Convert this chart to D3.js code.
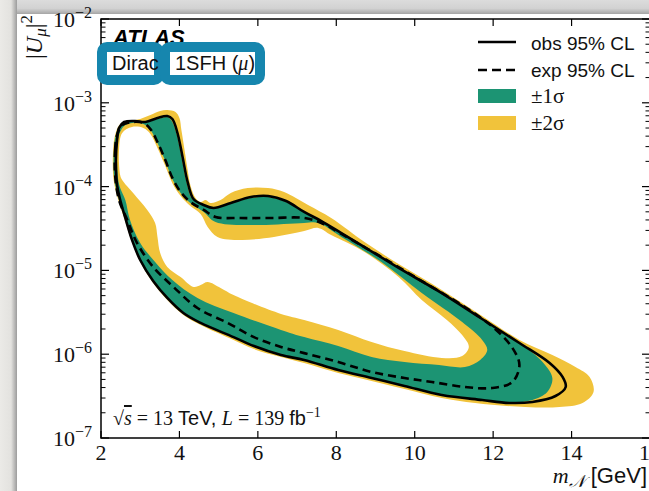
<!DOCTYPE html>
<html><head><meta charset="utf-8">
<script src="https://cdn.jsdelivr.net/npm/d3@7"></script>
<style>html,body{margin:0;padding:0;background:#fff;overflow:hidden}svg{display:block}</style>
</head><body>
<svg id="c" width="649" height="491"></svg>
<script>
// ---------- data ----------
const xTicks = [2, 4, 6, 8, 10, 12, 14, 16];
const yTickExps = [-7, -6, -5, -4, -3, -2];

// observed 95% CL contour [mN (GeV), |U_mu|^2]
const obs = [[2.41,1.04e-4],[2.38,2.07e-4],[2.41,3.60e-4],[2.46,5.00e-4],[2.59,5.90e-4],[2.87,6.07e-4],[3.13,5.90e-4],[3.44,6.59e-4],[3.69,6.95e-4],[3.82,6.41e-4],[3.95,4.36e-4],[4.08,2.25e-4],[4.21,1.13e-4],[4.36,7.11e-5],[4.62,6.03e-5],[4.87,5.56e-5],[5.31,6.37e-5],[5.82,7.52e-5],[6.26,7.73e-5],[6.72,6.73e-5],[7.18,4.98e-5],[7.62,3.88e-5],[8.13,2.79e-5],[8.72,1.90e-5],[9.59,1.07e-5],[10.69,5.37e-6],[11.72,2.63e-6],[12.67,1.36e-6],[13.44,7.85e-7],[13.77,5.35e-7],[13.85,4.06e-7],[13.59,3.17e-7],[13.00,2.69e-7],[12.41,2.62e-7],[11.72,2.84e-7],[10.69,3.26e-7],[9.74,4.18e-7],[8.90,5.20e-7],[8.05,6.47e-7],[7.18,8.53e-7],[6.59,9.77e-7],[5.90,1.25e-6],[5.38,1.60e-6],[4.54,2.36e-6],[4.10,3.10e-6],[3.69,4.69e-6],[3.33,7.47e-6],[3.00,1.33e-5],[2.79,2.31e-5],[2.62,4.22e-5],[2.49,6.92e-5]];

// expected 95% CL contour
const exp = [[2.36,1.37e-4],[2.36,2.74e-4],[2.41,4.13e-4],[2.54,5.43e-4],[2.79,5.90e-4],[3.08,5.74e-4],[3.26,4.86e-4],[3.44,3.40e-4],[3.64,2.07e-4],[3.82,1.27e-4],[4.03,8.63e-5],[4.28,6.55e-5],[4.62,5.26e-5],[4.92,4.34e-5],[5.56,4.22e-5],[6.33,4.22e-5],[7.18,4.22e-5],[7.62,3.68e-5],[8.13,2.72e-5],[9.15,1.45e-5],[10.26,7.08e-6],[11.28,3.66e-6],[12.05,2.00e-6],[12.49,1.19e-6],[12.67,7.43e-7],[12.49,4.66e-7],[11.97,3.95e-7],[11.28,4.06e-7],[10.44,4.66e-7],[9.74,5.20e-7],[8.90,6.14e-7],[8.05,8.07e-7],[7.18,1.03e-6],[6.59,1.22e-6],[5.90,1.60e-6],[5.23,2.36e-6],[4.46,3.56e-6],[3.85,6.34e-6],[3.33,1.10e-5],[2.92,2.12e-5],[2.67,3.99e-5],[2.46,6.92e-5]];

// +-1 sigma band: outer and inner contours
const sig1Outer = [[2.33,1.37e-4],[2.33,2.74e-4],[2.38,4.13e-4],[2.51,5.58e-4],[2.87,6.07e-4],[3.13,5.90e-4],[3.44,6.41e-4],[3.69,6.77e-4],[3.79,6.24e-4],[3.92,4.36e-4],[4.05,2.25e-4],[4.18,1.13e-4],[4.33,7.11e-5],[4.62,6.03e-5],[4.87,5.56e-5],[5.31,6.37e-5],[5.82,7.31e-5],[6.26,7.52e-5],[6.72,6.55e-5],[7.18,4.98e-5],[7.62,3.88e-5],[8.13,2.79e-5],[8.72,1.90e-5],[9.59,1.07e-5],[10.69,5.37e-6],[11.72,2.63e-6],[12.67,1.36e-6],[13.26,8.07e-7],[13.51,5.20e-7],[13.38,3.54e-7],[13.00,2.84e-7],[12.41,2.62e-7],[11.72,2.84e-7],[10.69,3.26e-7],[9.74,4.18e-7],[8.90,5.20e-7],[8.05,6.47e-7],[7.18,8.53e-7],[6.59,9.77e-7],[5.90,1.25e-6],[5.38,1.60e-6],[4.54,2.36e-6],[4.10,3.10e-6],[3.69,4.69e-6],[3.33,7.47e-6],[3.00,1.33e-5],[2.79,2.31e-5],[2.62,4.22e-5],[2.46,6.92e-5],[2.38,9.62e-5]];
const sig1Inner = [[2.44,1.20e-4],[2.41,2.74e-4],[2.46,4.13e-4],[2.59,5.28e-4],[2.79,5.74e-4],[3.08,5.58e-4],[3.26,4.73e-4],[3.44,3.31e-4],[3.64,2.02e-4],[3.82,1.23e-4],[4.03,8.40e-5],[4.28,6.37e-5],[4.62,4.98e-5],[4.92,3.78e-5],[6.00,3.48e-5],[7.18,3.68e-5],[7.54,3.68e-5],[8.13,2.51e-5],[9.15,1.26e-5],[10.18,5.37e-6],[11.21,2.42e-6],[11.72,1.48e-6],[11.85,1.12e-6],[11.67,8.53e-7],[11.28,7.03e-7],[10.62,7.43e-7],[9.74,8.07e-7],[8.90,9.27e-7],[8.05,1.25e-6],[7.18,1.60e-6],[6.59,1.95e-6],[5.38,3.10e-6],[4.46,4.69e-6],[3.82,7.68e-6],[3.38,1.26e-5],[3.00,2.12e-5],[2.74,3.99e-5],[2.62,6.92e-5],[2.49,9.62e-5]];

// +-2 sigma band: outer and inner contours
const sig2Outer = [[2.31,1.37e-4],[2.31,2.74e-4],[2.36,4.13e-4],[2.49,5.58e-4],[2.74,6.07e-4],[3.00,6.41e-4],[3.26,7.14e-4],[3.51,7.98e-4],[3.69,8.20e-4],[3.90,7.76e-4],[4.00,6.59e-4],[4.05,4.73e-4],[4.13,2.74e-4],[4.21,1.58e-4],[4.28,1.04e-4],[4.41,7.31e-5],[4.54,6.55e-5],[4.67,6.92e-5],[4.79,6.37e-5],[5.05,6.92e-5],[5.31,8.40e-5],[5.74,9.62e-5],[6.26,9.62e-5],[6.67,8.63e-5],[7.28,6.03e-5],[7.87,4.22e-5],[8.72,2.18e-5],[9.59,1.19e-5],[10.69,5.84e-6],[11.72,2.86e-6],[12.67,1.48e-6],[13.51,9.77e-7],[14.10,7.03e-7],[14.46,5.35e-7],[14.56,3.54e-7],[14.28,2.62e-7],[13.69,2.34e-7],[12.82,2.34e-7],[11.54,2.62e-7],[10.69,3.00e-7],[9.74,3.85e-7],[8.90,4.79e-7],[8.05,5.97e-7],[7.18,7.85e-7],[6.59,9.27e-7],[5.90,1.15e-6],[5.38,1.48e-6],[4.54,2.23e-6],[4.10,2.94e-6],[3.69,4.44e-6],[3.33,7.08e-6],[3.00,1.26e-5],[2.77,2.31e-5],[2.59,4.22e-5],[2.44,6.92e-5],[2.36,9.62e-5]];
const sig2Inner = [[2.49,1.37e-4],[2.46,2.74e-4],[2.54,4.36e-4],[2.79,5.14e-4],[3.08,5.00e-4],[3.26,4.25e-4],[3.44,2.89e-4],[3.64,1.76e-4],[3.82,1.10e-4],[4.03,7.73e-5],[4.28,5.86e-5],[4.54,4.71e-5],[4.72,3.30e-5],[4.97,2.51e-5],[5.56,2.31e-5],[6.41,2.51e-5],[7.18,2.95e-5],[7.54,3.21e-5],[7.87,2.64e-5],[8.72,1.66e-5],[9.59,8.34e-6],[10.18,4.44e-6],[10.82,2.56e-6],[11.21,1.69e-6],[11.38,1.22e-6],[11.21,9.52e-7],[10.69,9.02e-7],[9.74,1.09e-6],[8.90,1.40e-6],[8.05,1.95e-6],[7.18,2.56e-6],[6.59,3.02e-6],[5.38,5.08e-6],[5.05,6.17e-6],[4.72,7.27e-6],[4.54,6.70e-6],[4.36,6.34e-6],[4.03,8.34e-6],[3.69,1.10e-5],[3.51,1.61e-5],[3.44,2.51e-5],[3.38,3.68e-5],[3.18,5.26e-5],[2.82,8.40e-5],[2.54,1.20e-4]];

const legendLabels = ["obs 95% CL", "exp 95% CL", "\u00b11\u03c3", "\u00b12\u03c3"];

// ---------- drawing ----------
const W = 649, H = 491;
const L = 101, R = 650, T = 19, B = 438;
const GREEN = "#1c9473", YELLOW = "#f1c33b", BLUE = "#1686ae";
const serif = "'Liberation Serif','Times New Roman',serif";
const sans = "'Liberation Sans',Arial,Helvetica,sans-serif";

const svg = d3.select("#c");
const defs = svg.append("defs");

// page frame (screenshot card look)
svg.append("rect").attr("width", W).attr("height", H).attr("fill", "#ebeae7");
const gl = defs.append("linearGradient").attr("id", "shL").attr("x1", 0).attr("x2", 1).attr("y1", 0).attr("y2", 0);
gl.append("stop").attr("offset", 0).attr("stop-color", "#ebeae7");
gl.append("stop").attr("offset", 0.65).attr("stop-color", "#e3e2df");
gl.append("stop").attr("offset", 1).attr("stop-color", "#9c9c9c");
const gt = defs.append("linearGradient").attr("id", "shT").attr("x1", 0).attr("x2", 0).attr("y1", 0).attr("y2", 1);
gt.append("stop").attr("offset", 0).attr("stop-color", "#dcdcdc");
gt.append("stop").attr("offset", 0.6).attr("stop-color", "#d2d2d2");
gt.append("stop").attr("offset", 1).attr("stop-color", "#a5a5a5");
svg.append("rect").attr("x", 0).attr("y", 0).attr("width", 17).attr("height", H).attr("fill", "url(#shL)");
svg.append("rect").attr("x", 17).attr("y", 0).attr("width", W - 17).attr("height", 14).attr("fill", "url(#shT)");
svg.append("rect").attr("x", 17).attr("y", 14).attr("width", W - 17).attr("height", H - 14).attr("fill", "#fff");

const x = d3.scaleLinear().domain([2, 16]).range([L, R]);
const y = d3.scaleLog().domain([1e-7, 1e-2]).range([B, T]);

defs.append("clipPath").attr("id", "plot").append("rect")
  .attr("x", L).attr("y", T).attr("width", R - L).attr("height", B - T);

const line = d3.line().x(d => x(d[0])).y(d => y(d[1])).curve(d3.curveCatmullRomClosed.alpha(0.5));
const g = svg.append("g").attr("clip-path", "url(#plot)");

g.append("path").attr("d", line(sig2Outer) + line(sig2Inner)).attr("fill", YELLOW).attr("fill-rule", "evenodd");
g.append("path").attr("d", line(sig1Outer) + line(sig1Inner)).attr("fill", GREEN).attr("fill-rule", "evenodd");
g.append("path").attr("d", line(exp)).attr("fill", "none").attr("stroke", "#000")
  .attr("stroke-width", 2.6).attr("stroke-dasharray", "8,5");
g.append("path").attr("d", line(obs)).attr("fill", "none").attr("stroke", "#000").attr("stroke-width", 2.6);

// axes frame & ticks
const ax = svg.append("g").attr("stroke", "#000").attr("fill", "none");
ax.append("rect").attr("x", L).attr("y", T).attr("width", R - L).attr("height", B - T).attr("stroke-width", 1.5);
xTicks.forEach(t => {
  ax.append("line").attr("x1", x(t)).attr("x2", x(t)).attr("y1", B).attr("y2", B - 7).attr("stroke-width", 1.2);
  ax.append("line").attr("x1", x(t)).attr("x2", x(t)).attr("y1", T).attr("y2", T + 7).attr("stroke-width", 1.2);
});
yTickExps.forEach(e => {
  const v = Math.pow(10, e);
  [L, R].forEach(sx => {
    const dir = sx === L ? 1 : -1;
    ax.append("line").attr("x1", sx).attr("x2", sx + dir * 8).attr("y1", y(v)).attr("y2", y(v)).attr("stroke-width", 1.2);
    if (e < -2) for (let k = 2; k <= 9; k++) {
      const yy = y(k * v);
      ax.append("line").attr("x1", sx).attr("x2", sx + dir * 4.5).attr("y1", yy).attr("y2", yy).attr("stroke-width", 1);
    }
  });
});

// tick labels
const tl = svg.append("g").attr("font-family", serif).attr("fill", "#111");
xTicks.forEach(t => {
  tl.append("text").attr("x", x(t)).attr("y", B + 22).attr("text-anchor", "middle").attr("font-size", 22).text(t);
});
yTickExps.forEach(e => {
  const t = tl.append("text").attr("x", 92).attr("y", y(Math.pow(10, e)) + 8).attr("text-anchor", "end").attr("font-size", 22);
  t.append("tspan").text("10");
  t.append("tspan").attr("dy", -9).attr("font-size", 16).text("\u2212" + (-e));
});

// axis titles
const yl = svg.append("text").attr("transform", "translate(42,15) rotate(-90)").attr("text-anchor", "end")
  .attr("font-family", serif).attr("font-size", 24).attr("fill", "#111");
yl.append("tspan").text("|");
yl.append("tspan").attr("font-style", "italic").text("U");
yl.append("tspan").attr("font-style", "italic").attr("font-size", 17).attr("dy", 4).text("\u03bc");
yl.append("tspan").attr("dy", -4).text("|");
yl.append("tspan").attr("font-size", 17).attr("dy", -10).text("2");

const xl = svg.append("text").attr("x", 647).attr("y", 483).attr("text-anchor", "end")
  .attr("font-size", 22).attr("fill", "#111");
xl.append("tspan").attr("font-family", serif).attr("font-style", "italic").text("m");
xl.append("tspan").attr("font-family", serif).attr("font-style", "italic").attr("font-size", 17).attr("dy", 4).text("\u{1D4A9}");
xl.append("tspan").attr("font-family", sans).attr("dy", -4).text(" [GeV]");

// ATLAS label
svg.append("text").attr("x", 113).attr("y", 45).attr("font-family", sans).attr("font-weight", "bold")
  .attr("font-style", "italic").attr("font-size", 22).attr("fill", "#000").text("ATLAS");

// boxed labels
function box(bx, by, bw, bh, parts) {
  svg.append("rect").attr("x", bx).attr("y", by).attr("width", bw).attr("height", bh).attr("rx", 5)
    .attr("fill", "#fff").attr("stroke", BLUE).attr("stroke-width", 10);
  const t = svg.append("text").attr("x", bx + 10).attr("y", 70).attr("font-size", 20).attr("fill", "#111");
  parts.forEach(p => t.append("tspan").attr("font-family", p[1] ? serif : sans).attr("font-style", p[1] ? "italic" : null).text(p[0]));
}
box(102, 47, 57, 33, [["Dirac", false]]);
box(165, 47, 95, 33, [["1SFH (", false], ["\u03bc", true], [")", false]]);

// legend
const lg = svg.append("g");
lg.append("line").attr("x1", 478).attr("x2", 516).attr("y1", 42).attr("y2", 42).attr("stroke", "#000").attr("stroke-width", 2.6);
lg.append("line").attr("x1", 478).attr("x2", 516).attr("y1", 70).attr("y2", 70).attr("stroke", "#000").attr("stroke-width", 2.6).attr("stroke-dasharray", "9,5");
lg.append("rect").attr("x", 478).attr("y", 89).attr("width", 38).attr("height", 14).attr("fill", GREEN);
lg.append("rect").attr("x", 478).attr("y", 116).attr("width", 38).attr("height", 14).attr("fill", YELLOW);
[50, 77, 103, 130].forEach((yy, i) => {
  lg.append("text").attr("x", 531).attr("y", yy).attr("font-size", i < 2 ? 19 : 21)
    .attr("font-family", i < 2 ? sans : serif).attr("fill", "#111").text(legendLabels[i]);
});

// energy / lumi
const el = svg.append("text").attr("x", 113).attr("y", 425).attr("font-size", 20).attr("fill", "#111").attr("font-family", serif);
el.append("tspan").text("\u221a");
el.append("tspan").attr("font-style", "italic").attr("text-decoration", "overline").text("s");
el.append("tspan").text(" = 13 ");
el.append("tspan").attr("font-family", sans).text("TeV, ");
el.append("tspan").attr("font-style", "italic").text("L");
el.append("tspan").text(" = 139 ");
el.append("tspan").attr("font-family", sans).text("fb");
el.append("tspan").attr("font-size", 14).attr("dy", -8).text("\u22121");
</script>
</body></html>
